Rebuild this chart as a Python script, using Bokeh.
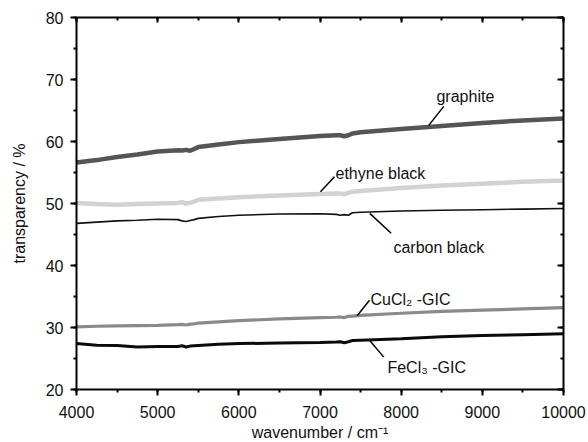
from bokeh.plotting import figure
from bokeh.models import LinearAxis, SingleIntervalTicker, Range1d, Title
from bokeh.embed import file_html
from bokeh.resources import INLINE
from bokeh.core.properties import value

# ---- data ----
wavenumber = [4000, 4250, 4500, 4750, 5000, 5250, 5300, 5350, 5400, 5450, 5500,
              5750, 6000, 6500, 7000, 7200, 7250, 7300, 7350, 7400, 7500,
              8000, 8500, 9000, 9500, 10000]

graphite = [56.6, 57.0, 57.5, 57.9, 58.4, 58.6, 58.55, 58.65, 58.5, 58.8, 59.1,
            59.5, 59.9, 60.4, 60.9, 61.0, 61.0, 60.85, 61.0, 61.3, 61.5,
            62.0, 62.5, 63.0, 63.4, 63.7]

ethyne_black = [50.1, 49.9, 49.8, 49.9, 50.0, 50.1, 50.2, 50.0, 50.1, 50.3, 50.6,
                50.8, 51.0, 51.3, 51.55, 51.6, 51.6, 51.5, 51.7, 51.9, 52.0,
                52.5, 52.9, 53.2, 53.5, 53.7]

carbon_black = [46.8, 47.0, 47.2, 47.3, 47.45, 47.4, 47.2, 47.1, 47.25, 47.4, 47.6,
                47.9, 48.1, 48.3, 48.35, 48.25, 48.1, 48.2, 48.1, 48.5, 48.6,
                48.8, 48.9, 49.0, 49.1, 49.2]

cucl2_gic = [30.1, 30.2, 30.25, 30.3, 30.35, 30.45, 30.5, 30.4, 30.55, 30.6, 30.7,
             30.9, 31.1, 31.4, 31.6, 31.65, 31.7, 31.6, 31.8, 31.85, 31.95,
             32.3, 32.6, 32.8, 33.0, 33.2]

fecl3_gic = [27.4, 27.15, 27.1, 26.85, 26.95, 26.95, 27.05, 26.85, 27.0, 27.05, 27.1,
             27.3, 27.4, 27.5, 27.6, 27.65, 27.7, 27.55, 27.7, 27.9, 27.95,
             28.2, 28.5, 28.7, 28.85, 29.0]

series_names = ["graphite", "ethyne black", "carbon black", "CuCl\u2082 -GIC", "FeCl\u2083 -GIC"]

x_label = "wavenumber / cm\u207b\u00b9"
y_label = "transparency / %"

FONT = "Liberation Sans"

p = figure(width=588, height=442, output_backend="svg", toolbar_location=None,
           x_range=Range1d(4000, 10000), y_range=Range1d(20, 80),
           min_border_left=76, min_border_right=25, min_border_top=17, min_border_bottom=53,
           background_fill_color="white", border_fill_color="white",
           outline_line_color=None)
p.grid.visible = False

# curves
p.line(wavenumber, graphite, line_color="#555555", line_width=4.5)
p.line(wavenumber, ethyne_black, line_color="#d2d2d2", line_width=4.5)
p.line(wavenumber, carbon_black, line_color="#111111", line_width=1.6)
p.line(wavenumber, cucl2_gic, line_color="#8a8a8a", line_width=3.2)
p.line(wavenumber, fecl3_gic, line_color="#0a0a0a", line_width=3.0)

# annotations: (text x, text y, leader x0, y0, x1, y1)
ann = [
    (8435, 67.3, 8340, 62.6, 8525, 65.66),
    (7191, 54.8, 7006, 51.9, 7178, 54.3),
    (7905, 42.9, 7613, 48.4, 7877, 45.2),
    (7622, 34.5, 7458, 31.9, 7610, 34.4),
    (7831, 23.6, 7613, 27.9, 7786, 25.22),
]
p.segment([a[2] for a in ann], [a[3] for a in ann], [a[4] for a in ann], [a[5] for a in ann],
          line_color="black", line_width=1.5)
p.text([a[0] for a in ann], [a[1] for a in ann], text=series_names,
       text_font=value(FONT), text_font_size="16px", text_color="#111111",
       text_align="left", text_baseline="alphabetic")

# axes
xt = SingleIntervalTicker(interval=1000, num_minor_ticks=2)
yt = SingleIntervalTicker(interval=10, num_minor_ticks=2)

def style(ax):
    ax.axis_line_color = "black"
    ax.axis_line_width = 2
    ax.major_tick_line_color = "black"
    ax.major_tick_line_width = 2
    ax.minor_tick_line_color = "black"
    ax.minor_tick_line_width = 2
    ax.major_label_text_font = FONT
    ax.major_label_text_font_size = "16px"
    ax.major_label_text_color = "#111111"
    ax.axis_label_text_font = FONT
    ax.axis_label_text_font_size = "16px"
    ax.axis_label_text_font_style = "normal"
    ax.axis_label_text_color = "#111111"

xa = p.xaxis[0]
xa.ticker = xt
style(xa)
xa.major_tick_out = 6
xa.major_tick_in = 0
xa.minor_tick_out = 3
xa.minor_tick_in = 0
xa.major_label_standoff = 10

# x-axis title placed below the tick labels
p.add_layout(Title(text=x_label, align="center", text_font=FONT, text_font_size="16px",
                   text_font_style="normal", text_color="#111111", standoff=3, offset=4),
             "below")

ya = p.yaxis[0]
ya.ticker = yt
style(ya)
ya.major_tick_out = 6
ya.major_tick_in = 0
ya.minor_tick_out = 3
ya.minor_tick_in = 0
ya.major_label_standoff = 7
ya.axis_label = y_label
ya.axis_label_standoff = 15

top = LinearAxis(ticker=SingleIntervalTicker(interval=1000, num_minor_ticks=2))
style(top)
top.major_tick_in = 5
top.major_tick_out = 0
top.minor_tick_in = 3
top.minor_tick_out = 0
top.major_label_text_font_size = "1px"
top.major_label_text_color = None
top.major_label_standoff = 0
p.add_layout(top, "above")

right = LinearAxis(ticker=SingleIntervalTicker(interval=10, num_minor_ticks=2))
style(right)
right.major_tick_in = 6
right.major_tick_out = 0
right.minor_tick_in = 3
right.minor_tick_out = 0
right.major_label_text_font_size = "1px"
right.major_label_text_color = None
right.major_label_standoff = 0
p.add_layout(right, "right")

open("out.html", "w").write(file_html(p, INLINE))
